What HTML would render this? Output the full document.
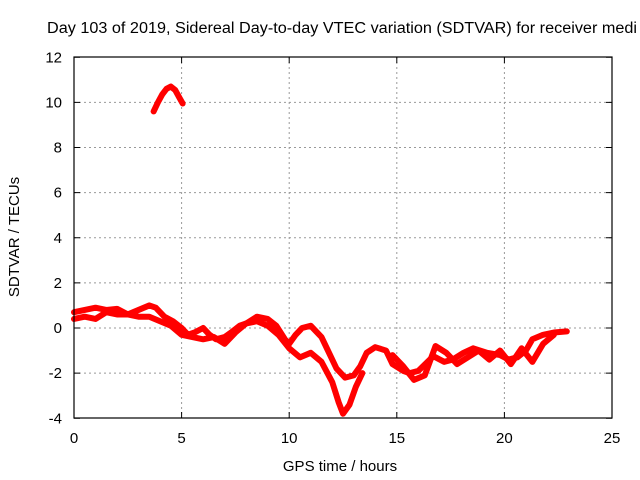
<!DOCTYPE html>
<html><head><meta charset="utf-8"><style>
body{margin:0;background:#fff}
svg{display:block;font-family:"Liberation Sans",sans-serif}
</style></head><body>
<svg id="c" width="640" height="480" viewBox="0 0 640 480">
<text x="47" y="33" font-size="15.5" textLength="590" lengthAdjust="spacingAndGlyphs" fill="#000">Day 103 of 2019, Sidereal Day-to-day VTEC variation (SDTVAR) for receiver medi</text>
<g id="grid"></g>
<g id="ticks"></g>
<g id="series"></g>
<rect x="74" y="57" width="538" height="361" fill="none" stroke="#000" stroke-width="1.2"/>
<text x="340" y="471" font-size="15" text-anchor="middle">GPS time / hours</text>
<text x="19" y="237" font-size="15" text-anchor="middle" transform="rotate(-90 19 237)">SDTVAR / TECUs</text>
</svg>
<script>
const xTicks=[0,5,10,15,20,25];
const yTicks=[-4,-2,0,2,4,6,8,10,12];
const hoursA=[0,0.5,1,1.5,2,2.5,3,3.5,3.8,4.2,4.6,5,5.3,5.6,6,6.3,6.6,7,7.3,7.7,8,8.5,9,9.4,9.8,10,10.3,10.6,11,11.5,11.8,12.2,12.6,13,13.3,13.6,14,14.5,14.8,15.3,15.6,16,16.7,17.2,17.6,18.1,18.55,19.2,19.8,20.2,20.6,21,21.3,21.8,22.3,22.9];
const valuesA=[0.7,0.8,0.9,0.8,0.85,0.6,0.8,1.0,0.9,0.5,0.3,0.0,-0.3,-0.2,0.0,-0.3,-0.5,-0.4,-0.2,0.1,0.2,0.5,0.4,0.1,-0.5,-0.7,-0.3,0.0,0.1,-0.4,-1.0,-1.8,-2.2,-2.1,-1.7,-1.1,-0.85,-1.0,-1.6,-1.9,-2.0,-1.9,-1.25,-1.5,-1.4,-1.1,-0.9,-1.1,-1.2,-1.4,-1.3,-1.0,-0.5,-0.3,-0.2,-0.15];
const hoursB=[0,0.5,1,1.5,2,2.5,3,3.5,4,4.5,5,5.5,6,6.5,7,7.5,8,8.5,9,9.5,10,10.5,11,11.5,12,12.3,12.5,12.8,13.1,13.4];
const valuesB=[0.4,0.5,0.4,0.7,0.6,0.6,0.5,0.5,0.3,0.1,-0.3,-0.4,-0.5,-0.4,-0.7,-0.2,0.2,0.3,0.1,-0.3,-0.9,-1.3,-1.1,-1.5,-2.4,-3.3,-3.8,-3.4,-2.6,-2.0];
const hoursC=[14.8,15.3,15.8,16.3,16.8,17.3,17.8,18.3,18.8,19.3,19.8,20.3,20.8,21.3,21.8,22.3];
const valuesC=[-1.2,-1.7,-2.3,-2.1,-0.8,-1.1,-1.6,-1.3,-1.0,-1.4,-1.0,-1.6,-0.9,-1.5,-0.7,-0.3];
const hoursArc=[3.7,3.9,4.1,4.3,4.5,4.7,4.9,5.05];
const valuesArc=[9.6,10.0,10.35,10.6,10.7,10.55,10.2,9.95];
const X=h=>74+h*(538/25);
const Y=v=>328-v*(361/16);
const NS="http://www.w3.org/2000/svg";
const grid=document.getElementById('grid'),ticks=document.getElementById('ticks'),ser=document.getElementById('series');
function mk(t,a,p){const e=document.createElementNS(NS,t);for(const k in a)e.setAttribute(k,a[k]);p.appendChild(e);return e;}
xTicks.forEach(t=>{
 if(t>0&&t<25){const g=mk('line',{x1:X(t),x2:X(t),y1:57,y2:418,stroke:'#999','stroke-dasharray':'2,3'},grid);
 
 }
 mk('line',{x1:X(t),x2:X(t),y1:418,y2:412,stroke:'#000'},ticks);
 mk('line',{x1:X(t),x2:X(t),y1:57,y2:63,stroke:'#000'},ticks);
 const l=mk('text',{x:X(t),y:443,'font-size':15,'text-anchor':'middle'},ticks);l.textContent=t;
 
 
});
yTicks.forEach(t=>{
 if(t>-4&&t<12){const g=mk('line',{x1:74,x2:612,y1:Y(t),y2:Y(t),stroke:'#999','stroke-dasharray':'2,3'},grid);
 
 }
 mk('line',{x1:74,x2:80,y1:Y(t),y2:Y(t),stroke:'#000'},ticks);
 mk('line',{x1:612,x2:606,y1:Y(t),y2:Y(t),stroke:'#000'},ticks);
 const l=mk('text',{x:62,y:Y(t)+5,'font-size':15,'text-anchor':'end'},ticks);l.textContent=t;
 
 
});
function strand(hs,vs,name){
 const pts=hs.map((h,i)=>X(h)+','+Y(vs[i])).join(' ');
 const p=mk('polyline',{points:pts,fill:'none',stroke:'#f00','stroke-width':6,'stroke-linejoin':'round','stroke-linecap':'round'},ser);
 
 
}
strand(hoursA,valuesA,'sdtvar-strand-a');
strand(hoursB,valuesB,'sdtvar-strand-b');
strand(hoursC,valuesC,'sdtvar-strand-c');
strand(hoursArc,valuesArc,'sdtvar-arc');
</script>
</body></html>
